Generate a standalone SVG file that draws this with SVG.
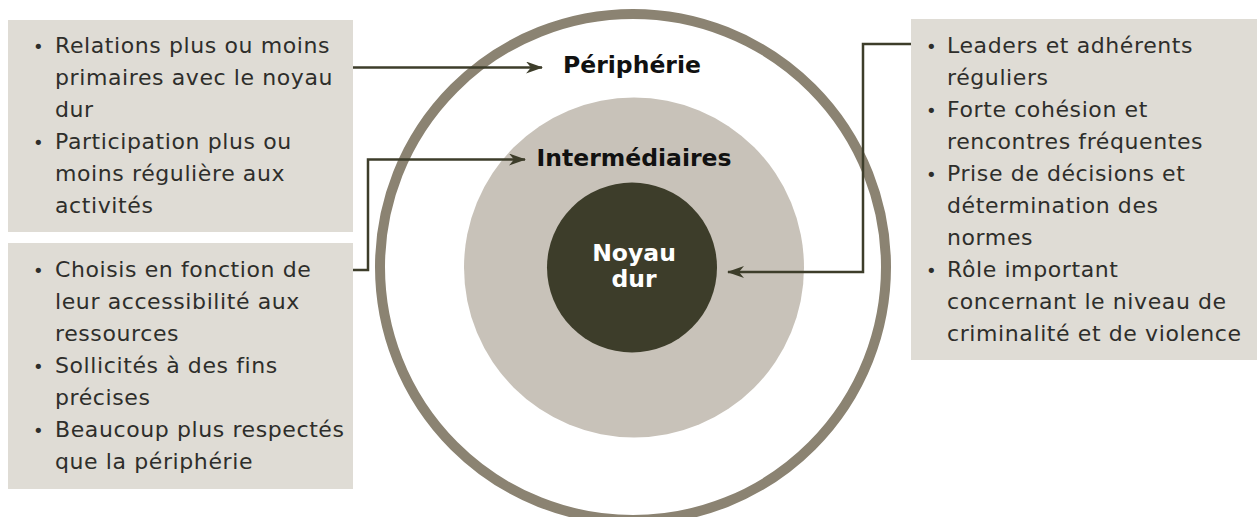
<svg xmlns="http://www.w3.org/2000/svg" width="1257" height="517" viewBox="0 0 1257 517">
<defs>
<style>
.box{fill:#dfdcd5}
.t{font-family:"DejaVu Sans","Open Sans",sans-serif;font-size:22px;letter-spacing:0.6px;fill:#2e2e2b}
.b{font-size:18px}
.lbl{font-family:"DejaVu Sans","Open Sans",sans-serif;font-size:23.5px;font-weight:700;fill:#111;text-anchor:middle}
.conn{fill:none;stroke:#3d3d2a;stroke-width:2.5}
</style>
<marker id="ah" markerWidth="17" markerHeight="12" refX="16" refY="6" orient="auto" markerUnits="userSpaceOnUse">
<path d="M0,0 L17,6 L0,12 L5,6 Z" fill="#3d3d2a"/>
</marker>
</defs>
<rect width="1257" height="517" fill="#fff"/>
<g id="circles">
<circle cx="633" cy="267" r="253" fill="#fff" stroke="#8b8372" stroke-width="10"/>
<circle cx="634" cy="267.5" r="170" fill="#c8c2b9"/>
<circle cx="632" cy="267.5" r="85" fill="#3d3d2a"/>
</g>
<g id="label-peripherie"><text class="lbl" x="632" y="73">Périphérie</text></g>
<g id="label-intermediaires"><text class="lbl" x="634" y="166">Intermédiaires</text></g>
<g id="label-noyau"><text class="lbl" x="634" y="261" style="fill:#fff">Noyau</text><text class="lbl" x="634" y="287" style="fill:#fff">dur</text></g>
<g id="box-peripherie">
<rect class="box" x="8" y="20" width="345" height="212"/>
<text class="t"><tspan class="b" x="33" y="53">•</tspan><tspan x="55" y="53">Relations plus ou moins</tspan><tspan x="55" y="85">primaires avec le noyau</tspan><tspan x="55" y="117">dur</tspan><tspan class="b" x="33" y="149">•</tspan><tspan x="55" y="149">Participation plus ou</tspan><tspan x="55" y="181">moins régulière aux</tspan><tspan x="55" y="213">activités</tspan></text>
</g>
<g id="box-intermediaires">
<rect class="box" x="8" y="243" width="345" height="246"/>
<text class="t"><tspan class="b" x="33" y="277">•</tspan><tspan x="55" y="277">Choisis en fonction de</tspan><tspan x="55" y="309">leur accessibilité aux</tspan><tspan x="55" y="341">ressources</tspan><tspan class="b" x="33" y="373">•</tspan><tspan x="55" y="373">Sollicités à des fins</tspan><tspan x="55" y="405">précises</tspan><tspan class="b" x="33" y="437">•</tspan><tspan x="55" y="437">Beaucoup plus respectés</tspan><tspan x="55" y="469">que la périphérie</tspan></text>
</g>
<g id="box-noyau">
<rect class="box" x="911" y="19" width="346" height="341"/>
<text class="t"><tspan class="b" x="926" y="53">•</tspan><tspan x="947" y="53">Leaders et adhérents</tspan><tspan x="947" y="85">réguliers</tspan><tspan class="b" x="926" y="117">•</tspan><tspan x="947" y="117">Forte cohésion et</tspan><tspan x="947" y="149">rencontres fréquentes</tspan><tspan class="b" x="926" y="181">•</tspan><tspan x="947" y="181">Prise de décisions et</tspan><tspan x="947" y="213">détermination des</tspan><tspan x="947" y="245">normes</tspan><tspan class="b" x="926" y="277">•</tspan><tspan x="947" y="277">Rôle important</tspan><tspan x="947" y="309">concernant le niveau de</tspan><tspan x="947" y="341">criminalité et de violence</tspan></text>
</g>
<g id="connectors">
<path class="conn" d="M353,67.5 H542" marker-end="url(#ah)"/>
<path class="conn" d="M353,270 H368 V159.5 H525" marker-end="url(#ah)"/>
<path class="conn" d="M911,44 H863 V272 H728" marker-end="url(#ah)"/>
</g>
</svg>
